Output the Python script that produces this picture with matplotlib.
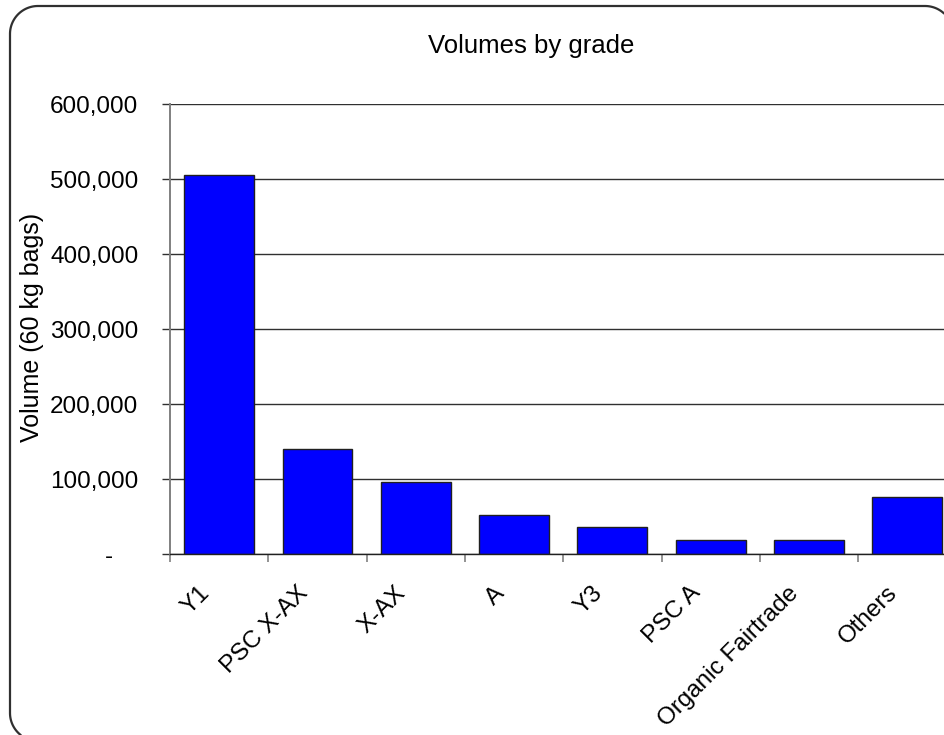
import numpy as np
import matplotlib
matplotlib.use("Agg")
import matplotlib.pyplot as plt
from matplotlib.lines import Line2D
from matplotlib.transforms import IdentityTransform, ScaledTranslation

plt.rcParams["font.family"] = ["Liberation Sans", "DejaVu Sans"]

grades = ["Y1", "PSC X-AX", "X-AX", "A", "Y3", "PSC A", "Organic Fairtrade", "Others"]
volumes = [506000, 141000, 97000, 53000, 37000, 19000, 19000, 77000]
y_ticks = [0, 100000, 200000, 300000, 400000, 500000, 600000]
y_tick_labels = ["-   \u2009", "100,000", "200,000", "300,000", "400,000", "500,000", "600,000"]

W, H, DPI = 944, 735, 100
fig = plt.figure(figsize=(W / DPI, H / DPI), dpi=DPI)


def rounded_outline(left, top, right, bottom, r, n=40):
    """Outline of a rounded rectangle in pixel coords (y measured downward),
    traced from the bottom-left corner, up, across the top and down the right."""
    pts = []
    # bottom-left corner
    t = np.linspace(np.pi / 2, np.pi, n)
    pts += list(zip(left + r + r * np.cos(t), bottom - r + r * np.sin(t)))
    # top-left corner
    t = np.linspace(np.pi, 1.5 * np.pi, n)
    pts += list(zip(left + r + r * np.cos(t), top + r + r * np.sin(t)))
    # top-right corner
    t = np.linspace(1.5 * np.pi, 2 * np.pi, n)
    pts += list(zip(right - r + r * np.cos(t), top + r + r * np.sin(t)))
    pts = [(px, py) for px, py in pts if px <= W and py <= H]
    xs = np.array([p[0] for p in pts])
    ys = H - np.array([p[1] for p in pts])
    return xs, ys


bx, by = rounded_outline(10, 6, 953, 741, 28)
fig.add_artist(Line2D(bx, by, transform=IdentityTransform(),
                      color="#303030", linewidth=1.6))

ax = fig.add_axes([170 / W, 1 - 554.3 / H, 786.4 / W, 450 / H])
x = list(range(len(grades)))
ax.bar(x, volumes, width=0.71, color="#0000FF", edgecolor="#202020",
       linewidth=1.0, zorder=3)

ax.set_xlim(-0.5, len(grades) - 0.5)
ax.set_ylim(0, 600000)

ax.set_yticks(y_ticks, y_tick_labels)
ax.yaxis.grid(True, color="#303030", linewidth=1.0, zorder=1)
ax.tick_params(axis="y", length=5.8, width=1.0, color="#303030", pad=17,
               labelsize=17.5)

ax.set_xticks(x, grades)
ax.set_xticks([i - 0.5 for i in range(len(grades) + 1)], minor=True)
ax.tick_params(axis="x", which="major", length=0, pad=20, labelsize=17.5)
ax.tick_params(axis="x", which="minor", length=5.8, width=1.2, color="#808080")
shift = ScaledTranslation(-21 / DPI, 0, fig.dpi_scale_trans)
for lbl in ax.get_xticklabels():
    lbl.set_rotation(45)
    lbl.set_ha("right")
    lbl.set_va("top")
    lbl.set_rotation_mode("anchor")
    lbl.set_transform(lbl.get_transform() + shift)

for side in ("top", "right"):
    ax.spines[side].set_visible(False)
ax.spines["left"].set_color("#808080")
ax.spines["left"].set_linewidth(1.4)
ax.spines["bottom"].set_color("#202020")
ax.spines["bottom"].set_linewidth(1.0)
ax.spines["bottom"].set_zorder(4)

ax.set_ylabel("Volume (60 kg bags)", fontsize=18, va="center", ha="center")
ax.yaxis.set_label_coords(32 / W, 1 - 327.5 / H, transform=fig.transFigure)

fig.text(531 / W, 1 - 53.3 / H, "Volumes by grade", fontsize=18.5,
         ha="center", va="baseline")

fig.savefig("out.png", dpi=DPI)
